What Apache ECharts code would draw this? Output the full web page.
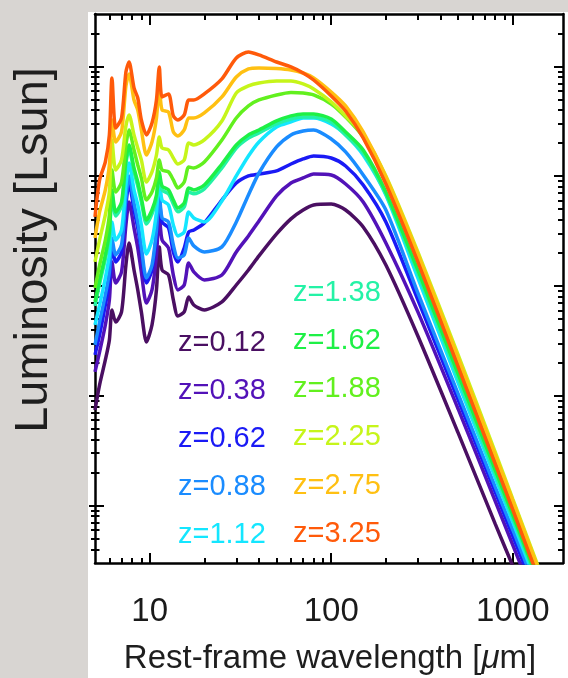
<!DOCTYPE html>
<html><head><meta charset="utf-8">
<script src="https://cdn.jsdelivr.net/npm/echarts@6/dist/echarts.min.js"></script>
<style>
html,body{margin:0;padding:0;width:568px;height:678px;overflow:hidden;background:#d8d5d2;}
#c{position:absolute;left:0;top:0;width:568px;height:678px;}
</style></head>
<body><div id="c"></div>
<script>
// Rest-frame wavelength grid [micron]
const wavelength = [5.0, 5.3, 5.7, 6.0, 6.2, 6.5, 7.0, 7.4, 7.7, 8.2, 8.6, 9.0, 9.6, 10.3, 10.9, 11.3, 11.7, 12.7, 13.5, 14.3, 15.5, 16.4, 17.5, 20, 25, 30, 35, 40, 50, 60, 70, 80, 100, 120, 150, 200, 300, 500, 800, 1000, 1500];

// log10(Luminosity / Lsun), one array per redshift
const logL_z012 = [9.871, 10.099, 10.326, 10.509, 10.782, 10.672, 10.764, 11.191, 11.392, 11.146, 10.964, 10.764, 10.490, 10.645, 10.964, 11.356, 11.146, 11.100, 10.873, 10.727, 10.764, 10.900, 10.827, 10.782, 10.855, 11.009, 11.146, 11.274, 11.474, 11.611, 11.692, 11.738, 11.747, 11.692, 11.538, 11.191, 10.545, 9.662, 8.833, 8.450, 7.731];
const logL_z038 = [10.217, 10.399, 10.645, 10.873, 11.219, 11.028, 11.128, 11.556, 11.765, 11.529, 11.346, 11.128, 10.845, 10.964, 11.283, 11.647, 11.419, 11.346, 11.100, 10.964, 11.009, 11.210, 11.128, 11.055, 11.100, 11.310, 11.456, 11.592, 11.820, 11.938, 11.984, 12.020, 12.011, 11.929, 11.765, 11.392, 10.764, 9.880, 9.042, 8.641, 7.913];
const logL_z062 = [10.372, 10.554, 10.827, 11.037, 11.374, 11.219, 11.310, 11.738, 11.938, 11.692, 11.529, 11.310, 11.028, 11.146, 11.465, 11.802, 11.583, 11.529, 11.310, 11.219, 11.346, 11.492, 11.510, 11.574, 11.783, 11.938, 12.002, 12.020, 12.048, 12.111, 12.157, 12.184, 12.166, 12.093, 11.920, 11.583, 10.873, 9.962, 9.124, 8.723, 7.995];
const logL_z088 = [10.463, 10.672, 10.918, 11.128, 11.437, 11.283, 11.374, 11.802, 12.002, 11.756, 11.583, 11.356, 11.073, 11.191, 11.510, 11.847, 11.620, 11.583, 11.374, 11.255, 11.283, 11.437, 11.365, 11.310, 11.356, 11.583, 11.829, 12.029, 12.266, 12.376, 12.412, 12.421, 12.339, 12.221, 12.011, 11.692, 10.937, 10.017, 9.170, 8.778, 8.049];
const logL_z112 = [10.645, 10.827, 11.073, 11.283, 11.583, 11.419, 11.510, 11.920, 12.121, 11.875, 11.738, 11.556, 11.292, 11.419, 11.674, 11.984, 11.783, 11.738, 11.556, 11.456, 11.492, 11.674, 11.620, 11.583, 11.774, 12.002, 12.184, 12.312, 12.448, 12.494, 12.530, 12.530, 12.476, 12.376, 12.193, 11.829, 11.073, 10.117, 9.252, 8.851, 8.095];
const logL_z138 = [10.819, 11.019, 11.247, 11.456, 11.839, 11.638, 11.729, 12.112, 12.248, 12.039, 11.911, 11.766, 11.565, 11.656, 11.793, 12.003, 11.875, 11.839, 11.747, 11.675, 11.720, 11.857, 11.839, 11.884, 12.075, 12.257, 12.348, 12.394, 12.476, 12.521, 12.539, 12.539, 12.494, 12.376, 12.212, 11.838, 11.119, 10.162, 9.288, 8.887, 8.131];
const logL_z162 = [10.855, 11.055, 11.283, 11.492, 11.875, 11.674, 11.765, 12.148, 12.284, 12.075, 11.947, 11.802, 11.601, 11.692, 11.829, 12.039, 11.911, 11.875, 11.783, 11.711, 11.756, 11.893, 11.875, 11.920, 12.111, 12.284, 12.376, 12.421, 12.503, 12.549, 12.567, 12.567, 12.521, 12.403, 12.239, 11.856, 11.146, 10.199, 9.325, 8.915, 8.159];
const logL_z188 = [10.982, 11.191, 11.419, 11.647, 12.057, 11.856, 11.947, 12.284, 12.421, 12.239, 12.102, 11.984, 11.783, 11.856, 11.984, 12.148, 12.057, 12.039, 11.966, 11.893, 11.947, 12.084, 12.075, 12.130, 12.330, 12.530, 12.640, 12.694, 12.740, 12.763, 12.758, 12.740, 12.658, 12.539, 12.357, 11.966, 11.255, 10.290, 9.407, 8.997, 8.232];
const logL_z225 = [11.219, 11.419, 11.647, 11.856, 12.330, 12.057, 12.148, 12.458, 12.558, 12.376, 12.257, 12.148, 11.947, 12.039, 12.193, 12.357, 12.257, 12.239, 12.166, 12.111, 12.148, 12.303, 12.284, 12.330, 12.503, 12.758, 12.822, 12.849, 12.867, 12.867, 12.840, 12.794, 12.676, 12.549, 12.376, 12.002, 11.310, 10.372, 9.488, 9.060, 8.286];
const logL_z275 = [11.437, 11.674, 11.875, 12.102, 12.512, 12.312, 12.403, 12.822, 12.931, 12.694, 12.603, 12.421, 12.193, 12.312, 12.530, 12.813, 12.603, 12.585, 12.403, 12.366, 12.421, 12.530, 12.530, 12.576, 12.722, 12.904, 12.977, 12.986, 12.981, 12.968, 12.940, 12.895, 12.767, 12.640, 12.403, 11.993, 11.292, 10.345, 9.461, 9.042, 8.268];
const logL_z325 = [11.629, 11.966, 12.130, 12.376, 12.895, 12.439, 12.530, 12.949, 13.040, 12.804, 12.712, 12.512, 12.376, 12.485, 12.694, 12.995, 12.722, 12.749, 12.549, 12.512, 12.558, 12.694, 12.694, 12.749, 12.886, 13.077, 13.131, 13.104, 13.040, 12.995, 12.940, 12.876, 12.731, 12.594, 12.348, 11.929, 11.219, 10.263, 9.379, 8.960, 8.186];

const zLabels = ['z=0.12', 'z=0.38', 'z=0.62', 'z=0.88', 'z=1.12', 'z=1.38', 'z=1.62', 'z=1.88', 'z=2.25', 'z=2.75', 'z=3.25'];
const seriesLogL = [logL_z012, logL_z038, logL_z062, logL_z088, logL_z112, logL_z138, logL_z162, logL_z188, logL_z225, logL_z275, logL_z325];
const colors = ['#4a0f62', '#5212b8', '#1a1af5', '#1a8cff', '#14e6ff', '#24f2a6', '#1ef046', '#62f01e', '#c6f51a', '#ffc012', '#ff5a0a'];

// Axis ticks
const xMajorTicks = [10, 100, 1000];
const xMinorTicks = [6, 7, 8, 9, 20, 30, 40, 50, 60, 70, 80, 90, 200, 300, 400, 500, 600, 700, 800, 900];
const xTickLabels = ['10', '100', '1000'];
const yMajorTicks = [1e9, 1e10, 1e11, 1e12, 1e13];
const yMinorTicks = [4e8, 5e8, 6e8, 7e8, 8e8, 9e8, 2e9, 3e9, 4e9, 5e9, 6e9, 7e9, 8e9, 9e9, 2e10, 3e10, 4e10, 5e10, 6e10, 7e10, 8e10, 9e10, 2e11, 3e11, 4e11, 5e11, 6e11, 7e11, 8e11, 9e11, 2e12, 3e12, 4e12, 5e12, 6e12, 7e12, 8e12, 9e12, 2e13];

const chart = echarts.init(document.getElementById('c'), null, {renderer: 'canvas'});
const FONT = 'Liberation Sans, Arial, Helvetica, sans-serif';
const X_MIN = 5, X_MAX = 1890, Y_MIN = 3e8, Y_MAX = 3e13;

function xAx(position, ticks, len, line, labels) {
  return {
    type: 'log', logBase: 10, min: X_MIN, max: X_MAX, position: position,
    splitLine: {show: false}, minorTick: {show: false}, minorSplitLine: {show: false},
    axisLine: {show: line, onZero: false, lineStyle: {color: '#000', width: 2.5}},
    axisTick: {show: true, inside: true, length: len, customValues: ticks, lineStyle: {color: '#000', width: 2}},
    axisLabel: labels ? {
      show: true, customValues: xMajorTicks, margin: 32, color: '#1a1a1a', fontSize: 33, fontFamily: FONT,
      formatter: function (v) { const i = xMajorTicks.findIndex(t => Math.abs(Math.log10(t) - Math.log10(v)) < 1e-6); return i >= 0 ? xTickLabels[i] : ''; }
    } : {show: false}
  };
}
function yAx(position, ticks, len, inside, line) {
  return {
    type: 'log', logBase: 10, min: Y_MIN, max: Y_MAX, position: position,
    splitLine: {show: false}, minorTick: {show: false}, minorSplitLine: {show: false},
    axisLine: {show: line, onZero: false, lineStyle: {color: '#000', width: 2.5}},
    axisTick: {show: true, inside: inside, length: len, customValues: ticks, lineStyle: {color: '#000', width: 2}},
    axisLabel: {show: false}
  };
}

const series = seriesLogL.map((arr, k) => ({
  name: zLabels[k], type: 'line', xAxisIndex: 0, yAxisIndex: 0,
  data: wavelength.map((w, i) => [w, Math.pow(10, arr[i])]),
  showSymbol: false, symbol: 'none', smooth: 0.25,
  lineStyle: {color: colors[k], width: 3.5}, itemStyle: {color: colors[k]},
  z: 2 + k * 0.01, silent: true, animation: false
}));

const labelPos = [
  [178, 343], [178, 391], [178, 439], [178, 487], [178, 535],
  [293, 293], [293, 341], [293, 389], [293, 437], [293, 486], [293, 534]
];
const graphics = [
  {type: 'rect', z: -10, silent: true, shape: {x: 88, y: 12, width: 480, height: 666}, style: {fill: '#ffffff'}},
  {type: 'text', z: 10, x: 34, y: 250, rotation: Math.PI / 2,
   style: {text: 'Luminosity [Lsun]', font: '47px ' + FONT, fill: '#1e1e1e', align: 'center', verticalAlign: 'middle'}},
  {type: 'text', z: 10, x: 330, y: 659,
   style: {text: 'Rest-frame wavelength [{i|μ}m]', font: '33px ' + FONT, fill: '#1e1e1e', align: 'center', verticalAlign: 'middle',
           rich: {i: {font: 'italic 33px ' + FONT, fill: '#1e1e1e'}}}}
];
zLabels.forEach((t, k) => {
  graphics.push({type: 'text', z: 10, x: labelPos[k][0], y: labelPos[k][1],
    style: {text: t, font: '29px ' + FONT, fill: colors[k], align: 'left', verticalAlign: 'middle'}});
});

chart.setOption({
  backgroundColor: '#d8d5d2',
  animation: false,
  grid: {left: 95, right: 5, top: 14, bottom: 115, containLabel: false, outerBoundsMode: 'none'},
  xAxis: [
    xAx('bottom', xMajorTicks, 10, true, true),
    xAx('bottom', xMinorTicks, 5, false, false),
    xAx('top', xMajorTicks, 11, true, false),
    xAx('top', xMinorTicks, 6, false, false)
  ],
  yAxis: [
    yAx('left', yMajorTicks, 9, true, true),
    yAx('left', yMinorTicks, 4.5, true, false),
    yAx('left', yMajorTicks, 6, false, false),
    yAx('left', yMinorTicks, 4, false, false),
    yAx('right', yMajorTicks, 9, true, true),
    yAx('right', yMinorTicks, 5, true, false)
  ],
  series: series,
  graphic: graphics
});
</script>
</body></html>
